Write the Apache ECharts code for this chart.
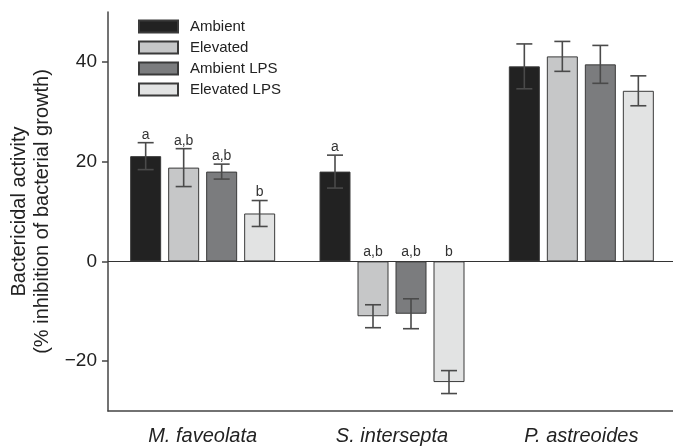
<!DOCTYPE html>
<html>
<head>
<meta charset="utf-8">
<script src="https://cdn.jsdelivr.net/npm/echarts@6/dist/echarts.min.js"></script>
<style>
  html, body { margin: 0; padding: 0; background: #fff; }
  #chart { width: 673px; height: 447px; }
</style>
</head>
<body>
<div id="chart"></div>
<script>
var species = ['M. faveolata', 'S. intersepta', 'P. astreoides'];
var seriesNames = ['Ambient', 'Elevated', 'Ambient LPS', 'Elevated LPS'];
var colors = ['#222222', '#c6c7c8', '#7b7c7e', '#e2e3e3'];

// mean values per treatment, one per species
var ambient     = [21.1, 18.0, 39.1];
var elevated    = [18.8, -11.0, 41.1];
var ambientLps  = [18.0, -10.5, 39.5];
var elevatedLps = [9.6, -24.2, 34.2];

// error bar half widths
var ambientErr     = [2.7, 3.3, 4.5];
var elevatedErr    = [3.8, 2.3, 3.0];
var ambientLpsErr  = [1.5, 3.0, 3.8];
var elevatedLpsErr = [2.6, 2.3, 3.0];

// significance letters (none for P. astreoides)
var ambientTxt     = ['a', 'a', ''];
var elevatedTxt    = ['a,b', 'a,b', ''];
var ambientLpsTxt  = ['a,b', 'a,b', ''];
var elevatedLpsTxt = ['b', 'b', ''];

var yTicks = [-20, 0, 20, 40];

var values = [ambient, elevated, ambientLps, elevatedLps];
var errs = [ambientErr, elevatedErr, ambientLpsErr, elevatedLpsErr];
var letters = [ambientTxt, elevatedTxt, ambientLpsTxt, elevatedLpsTxt];

var font = '"Liberation Sans", Arial, Helvetica, sans-serif';
var barW = 31;
var pitch = 38;

var chart = echarts.init(document.getElementById('chart'));

var series = [];
for (var i = 0; i < 4; i++) {
    var bar = {
        name: seriesNames[i],
        type: 'bar',
        barWidth: barW,
        barGap: ((pitch - barW) / barW * 100) + '%',
        itemStyle: { color: colors[i], borderColor: '#3a3a3a', borderWidth: 1 },
        data: values[i],
        z: 2
    };
    if (i === 0) {
        bar.markLine = {
            silent: true,
            symbol: 'none',
            label: { show: false },
            lineStyle: { color: '#333', width: 1.2, type: 'solid' },
            data: [{ yAxis: 0 }],
            z: 1
        };
    }
    series.push(bar);
}

for (var i = 0; i < 4; i++) {
    var d = [];
    for (var j = 0; j < species.length; j++) {
        d.push([j, values[i][j] - errs[i][j], values[i][j] + errs[i][j], values[i][j], letters[i][j]]);
    }
    (function (k) {
        series.push({
            type: 'custom',
            name: seriesNames[k] + ' err',
            data: d,
            z: 5,
            encode: { x: 0, y: [1, 2] },
            renderItem: function (params, api) {
                var off = (k - 1.5) * pitch;
                var lo = api.coord([api.value(0), api.value(1)]);
                var hi = api.coord([api.value(0), api.value(2)]);
                var zero = api.coord([api.value(0), 0]);
                var x = lo[0] + off;
                var cap = 8;
                var st = { stroke: '#4a4a4a', lineWidth: 1.6 };
                var kids = [
                    { type: 'line', shape: { x1: x, y1: lo[1], x2: x, y2: hi[1] }, style: st },
                    { type: 'line', shape: { x1: x - cap, y1: hi[1], x2: x + cap, y2: hi[1] }, style: st },
                    { type: 'line', shape: { x1: x - cap, y1: lo[1], x2: x + cap, y2: lo[1] }, style: st }
                ];
                var txt = api.value(4);
                if (txt) {
                    var ty = api.value(3) >= 0 ? hi[1] - 8 : zero[1] - 9.5;
                    kids.push({
                        type: 'text',
                        style: {
                            text: txt, x: x, y: ty,
                            align: 'center', verticalAlign: 'middle',
                            fontFamily: font, fontSize: 14, fill: '#333'
                        }
                    });
                }
                return { type: 'group', children: kids };
            }
        });
    })(i);
}

var option = {
    animation: false,
    backgroundColor: '#fff',
    grid: { left: 108, right: -3, top: 12, bottom: 36, outerBoundsMode: 'none', containLabel: false },
    legend: {
        data: seriesNames,
        orient: 'vertical',
        left: 133,
        top: 14,
        itemWidth: 39,
        itemHeight: 12,
        itemGap: 6,
        icon: 'rect',
        textStyle: { fontFamily: font, fontSize: 15, color: '#222', padding: [0, 0, 0, 7] }
    },
    xAxis: {
        type: 'category',
        data: species,
        axisLine: { onZero: false, lineStyle: { color: '#444', width: 1.5 } },
        axisTick: { alignWithLabel: true, length: 6, lineStyle: { color: '#444', width: 1.5 } },
        axisLabel: { fontFamily: font, fontSize: 20, fontStyle: 'italic', color: '#222', margin: 15 },
        splitLine: { show: false }
    },
    yAxis: {
        type: 'value',
        min: -30,
        max: 50,
        name: 'Bactericidal activity\n(% inhibition of bacterial growth)',
        nameLocation: 'middle',
        nameGap: 54,
        nameTextStyle: { fontFamily: font, fontSize: 20, color: '#222', lineHeight: 23 },
        axisLine: { show: true, lineStyle: { color: '#444', width: 1.5 } },
        axisTick: { show: true, length: 6, customValues: yTicks, lineStyle: { color: '#444', width: 1.5 } },
        axisLabel: {
            customValues: yTicks,
            fontFamily: font, fontSize: 19, color: '#222', margin: 11,
            formatter: function (v) { return String(v).replace('-', '\u2212'); }
        },
        splitLine: { show: false }
    },
    series: series
};

chart.setOption(option);
</script>
</body>
</html>
